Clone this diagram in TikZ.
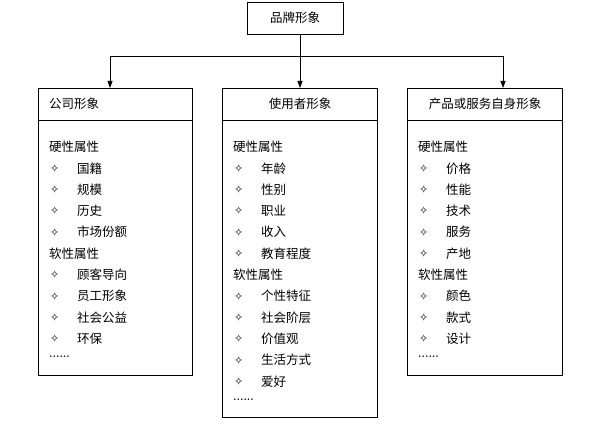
\documentclass[tikz,border=0pt]{standalone}
\usepackage{fontspec}
\newfontfamily\cjk{Noto Sans CJK SC}
\newfontfamily\dv{DejaVu Sans}
\usetikzlibrary{arrows.meta}
\begin{document}
\begin{tikzpicture}[x=1pt,y=-1pt,
  boxx/.style={draw,line width=0.9pt},
  txt/.style={anchor=west,inner sep=0pt,font=\cjk\fontsize{12.5}{14}\selectfont},
  arr/.style={-{Triangle[length=7pt,width=5pt]},line width=0.8pt}]
\useasboundingbox (0,0) rectangle (600,433);
\node[boxx,minimum width=96pt,minimum height=32pt,font=\cjk\fontsize{12.5}{14}\selectfont] (top) at (295,18) {品牌形象};
\coordinate (j) at (300,56);
\coordinate (l) at (110,56);
\coordinate (r) at (503,56);
\draw[line width=0.8pt] (l) -- (r);
\draw[line width=0.8pt] (top.south -| j) -- (j);
\draw[boxx] (38,88) rectangle (192,375);
\draw[boxx] (222,88) rectangle (377,417);
\draw[boxx] (407,88) rectangle (562,375);
\draw[line width=0.9pt] (38,120) -- (192,120);
\draw[line width=0.9pt] (222,120) -- (377,120);
\draw[line width=0.9pt] (407,120) -- (562,120);
\coordinate (lt) at (110,88);
\coordinate (mt) at (300,88);
\coordinate (rt) at (503,88);
\draw[arr] (l) -- (lt);
\draw[arr] (j) -- (mt);
\draw[arr] (r) -- (rt);
\node[txt] (h1) at (49,104) {公司形象};
\node[txt,anchor=center] (h2) at (300,104) {使用者形象};
\node[txt,anchor=center] (h3) at (485,104) {产品或服务自身形象};
\def\col#1#2{%
  \foreach \t [count=\i from 0] in {#2} {
    \ifx\t\empty\else\fi
  }}
% left column
\foreach \t [count=\i from 0] in {H硬性属性,I国籍,I规模,I历史,I市场份额,H软性属性,I顾客导向,I员工形象,I社会公益,I环保,D}{
  \pgfmathsetmacro\yy{147+21.3*\i}
  \edef\tt{\t}
}
\newcommand\putcol[3]{%
  \foreach \kind/\t [count=\i from 0] in {#3}{
    \pgfmathsetmacro\yy{147+21.3*\i}
    \ifnum\kind=0
      \node[txt] (#1h\i) at (#2,\yy) {\t};
    \else\ifnum\kind=1
      \node[txt,font=\dv\fontsize{11}{13}\selectfont] (#1d\i) at (#2+1,\yy) {✧};
      \node[txt] (#1i\i) at (#2+28,\yy) {\t};
    \else
      \node[txt,font=\rmfamily\bfseries\fontsize{11}{13}\selectfont] (#1e\i) at (#2,\yy-3) {......};
    \fi\fi
  }}
\putcol{a}{49}{0/硬性属性,1/国籍,1/规模,1/历史,1/市场份额,0/软性属性,1/顾客导向,1/员工形象,1/社会公益,1/环保,2/x}
\putcol{b}{233}{0/硬性属性,1/年龄,1/性别,1/职业,1/收入,1/教育程度,0/软性属性,1/个性特征,1/社会阶层,1/价值观,1/生活方式,1/爱好,2/x}
\putcol{c}{418}{0/硬性属性,1/价格,1/性能,1/技术,1/服务,1/产地,0/软性属性,1/颜色,1/款式,1/设计,2/x}
\end{tikzpicture}
\end{document}
